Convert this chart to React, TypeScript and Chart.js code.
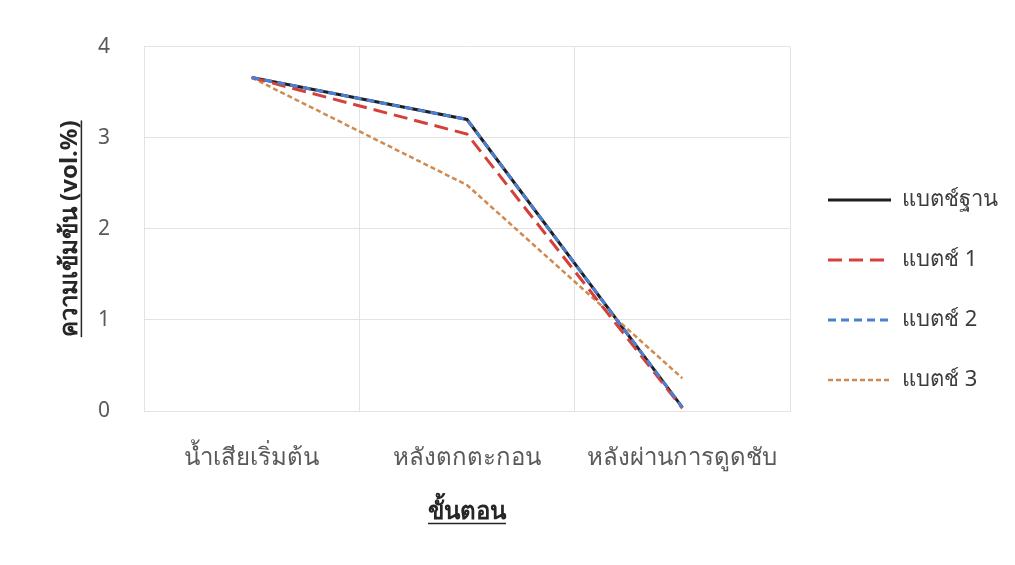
import React, { useEffect, useRef } from "react";
import { Chart, registerables } from "chart.js";

Chart.register(...registerables);

const categories = ["น้ำเสียเริ่มต้น", "หลังตกตะกอน", "หลังผ่านการดูดชับ"];
const seriesNames = ["แบตช์ฐาน", "แบตช์ 1", "แบตช์ 2", "แบตช์ 3"];
const baseBatch = [3.66, 3.2, 0.04];
const batch1 = [3.66, 3.04, 0.03];
const batch2 = [3.66, 3.2, 0.04];
const batch3 = [3.66, 2.48, 0.36];
const yTicks = [0, 1, 2, 3, 4];
const xTitle = "ขั้นตอน";
const yTitle = "ความเข้มข้น (vol.%)";

const FONT = "'Noto Sans', sans-serif";
const TITLE_SIZE = 24;

const underlinePlugin = {
  id: "underlineTitles",
  afterDraw(chart: any) {
    const ctx = chart.ctx;
    ctx.save();
    ctx.font = `bold ${TITLE_SIZE}px ${FONT}`;
    ctx.strokeStyle = "#262626";
    ctx.lineWidth = 1.5;
    const lh = TITLE_SIZE * 1.2;
    const xs = chart.scales.x;
    const ys = chart.scales.y;
    const xo = xs.options.title;
    const xw = ctx.measureText(xTitle).width;
    const xcx = (xs.left + xs.right) / 2;
    const xcy = xs.bottom - (lh / 2 + xo.padding.bottom);
    ctx.beginPath();
    ctx.moveTo(xcx - xw / 2, xcy + 11);
    ctx.lineTo(xcx + xw / 2, xcy + 11);
    ctx.stroke();
    const yo = ys.options.title;
    const yw = ctx.measureText(yTitle).width;
    const ycx = ys.left + lh / 2 + yo.padding.top;
    const ycy = (ys.top + ys.bottom) / 2;
    ctx.beginPath();
    ctx.moveTo(ycx + 11, ycy - yw / 2);
    ctx.lineTo(ycx + 11, ycy + yw / 2);
    ctx.stroke();
    ctx.restore();
  },
};

export default function App() {
  const ref = useRef<HTMLCanvasElement>(null);
  useEffect(() => {
    if (!ref.current) return;
    const grid = "#e3e3e3";
    const chart = new Chart(ref.current, {
      type: "line",
      data: {
        labels: categories,
        datasets: [
          {
            label: seriesNames[0],
            data: baseBatch,
            borderColor: "#1f1f1f",
            backgroundColor: "#1f1f1f",
            borderWidth: 3,
            pointRadius: 0,
            order: 4,
          },
          {
            label: seriesNames[1],
            data: batch1,
            borderColor: "#d6403a",
            backgroundColor: "#d6403a",
            borderWidth: 3,
            borderDash: [14, 7],
            pointRadius: 0,
            order: 2,
          },
          {
            label: seriesNames[2],
            data: batch2,
            borderColor: "#4a7fd4",
            backgroundColor: "#4a7fd4",
            borderWidth: 3,
            borderDash: [8, 5],
            pointRadius: 0,
            order: 1,
          },
          {
            label: seriesNames[3],
            data: batch3,
            borderColor: "#cf8a4f",
            backgroundColor: "#cf8a4f",
            borderWidth: 2.5,
            borderDash: [5, 3],
            pointRadius: 0,
            order: 3,
          },
        ],
      },
      options: {
        animation: false,
        responsive: false,
        maintainAspectRatio: false,
        layout: { padding: { top: 45, bottom: 30, left: 0, right: 7 } },
        plugins: {
          tooltip: { enabled: false },
          legend: {
            position: "right",
            labels: {
              usePointStyle: true,
              pointStyle: "line",
              pointStyleWidth: 63,
              padding: 38,
              color: "#3c3c3c",
              font: { family: FONT, size: 22 },
              sort: (a: any, b: any) => a.datasetIndex - b.datasetIndex,
              generateLabels: (c: any) => {
                const items = (Chart as any).defaults.plugins.legend.labels.generateLabels(c);
                items.forEach((it: any) => {
                  const ds = c.data.datasets[it.datasetIndex];
                  it.lineDash = ds.borderDash || [];
                  it.strokeStyle = ds.borderColor;
                  it.lineWidth = ds.borderWidth;
                });
                return items;
              },
            },
          },
        },
        scales: {
          x: {
            offset: true,
            grid: { color: grid, offset: true, drawTicks: false },
            border: { color: grid },
            afterFit: (s: any) => {
              s.height = 124;
            },
            ticks: {
              color: "#595959",
              padding: 33,
              maxRotation: 0,
              font: { family: FONT, size: 24 },
            },
            title: {
              display: true,
              text: xTitle,
              color: "#262626",
              font: { family: FONT, size: TITLE_SIZE, weight: "bold" },
              padding: { top: 20, bottom: 8 },
            },
          },
          y: {
            min: 0,
            max: 4,
            grid: { color: grid, drawTicks: false },
            border: { color: grid },
            afterFit: (s: any) => {
              s.width = 144;
            },
            afterBuildTicks: (scale: any) => {
              scale.ticks = yTicks.map((v) => ({ value: v }));
            },
            ticks: {
              color: "#595959",
              padding: 34,
              font: { family: FONT, size: 21 },
            },
            title: {
              display: true,
              text: yTitle,
              color: "#262626",
              font: { family: FONT, size: TITLE_SIZE, weight: "bold" },
              padding: { top: 56, bottom: 10 },
            },
          },
        },
      },
      plugins: [underlinePlugin],
    });
    return () => chart.destroy();
  }, []);
  return (
    <div style={{ position: "fixed", left: 0, top: 0, width: 1015, height: 565, background: "#fff" }}>
      <canvas ref={ref} width={1015} height={565} style={{ width: 1015, height: 565, display: "block" }} />
    </div>
  );
}
